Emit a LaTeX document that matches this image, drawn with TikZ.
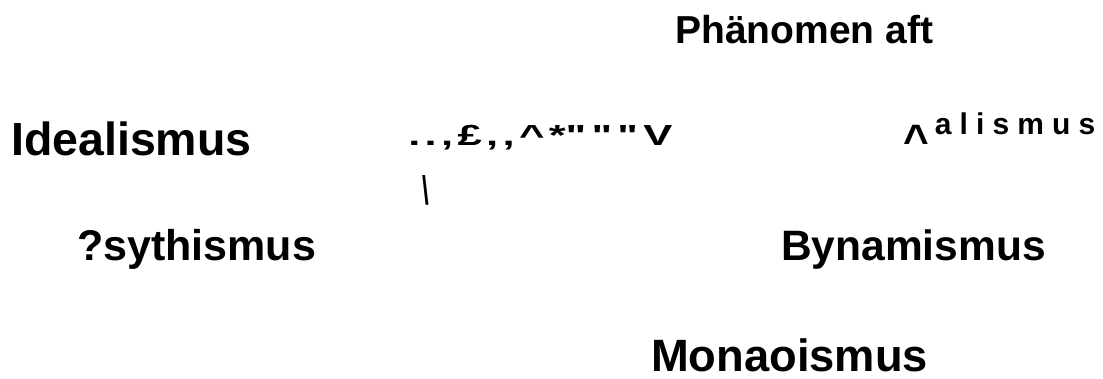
\documentclass[tikz,border=0pt]{standalone}
\usepackage{fontspec}
\setmainfont{Liberation Sans}
\usetikzlibrary{positioning}

\newcommand{\wordsize}[1]{\fontsize{#1}{#1}\selectfont}
\newcommand{\qgap}{\textquotedbl\hspace{3.5pt}}
\tikzset{
  word/.style={inner sep=0pt, anchor=base west, text depth=0pt, font=\bfseries},
  spaced/.style={word, font=\bfseries\addfontfeature{LetterSpace=#1}}
}

\begin{document}
\begin{tikzpicture}[x=1pt, y=-1pt]
  \useasboundingbox (0,0) rectangle (1103,378);
  % top row
  \node[word] (phen) at (675,43) {\wordsize{39}Phänomen aft};
  % middle row
  \node[word] (ideal) at (11,155) {\wordsize{46.5}Idealismus};
  \node[spaced=10, xscale=1.5] (garble) at (408,145)
    {\wordsize{29}..,£,{},\^{}*\qgap\qgap\qgap V};
  \node[word] (real) at (903,155)
    {\wordsize{44}\^{}\hspace{6pt}\raisebox{21pt}{\wordsize{30}\addfontfeature{LetterSpace=27}alismus}};
  \node[word, anchor=center, xscale=0.6] (stroke) at (426,190) {\wordsize{40}\textbackslash};
  % lower rows
  \node[word] (psych) at (77,260) {\wordsize{43}?sythismus};
  \node[word] (dyn) at (781,260) {\wordsize{42.5}Bynamismus};
  \node[word] (mono) at (651,371) {\wordsize{45.3}Monaoismus};
\end{tikzpicture}
\end{document}
